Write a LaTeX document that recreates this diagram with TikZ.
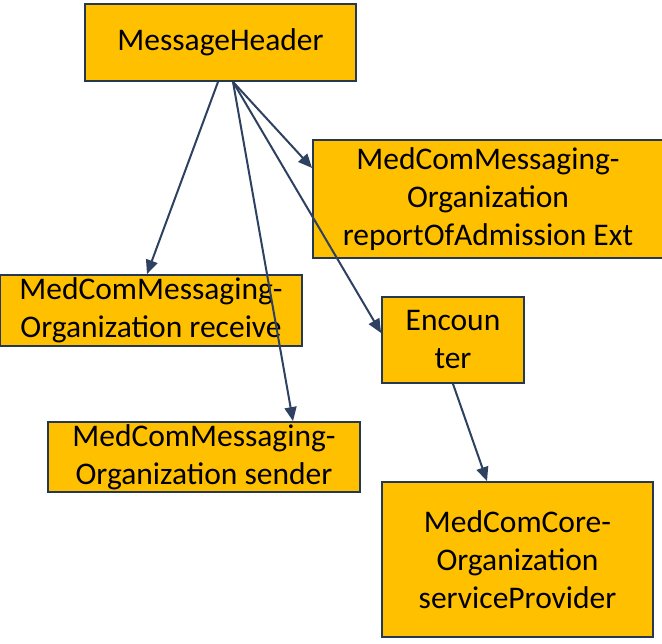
\documentclass[tikz,border=0pt]{standalone}
\usepackage{fontspec}
\setmainfont{Carlito}
\usetikzlibrary{positioning,arrows.meta}
\definecolor{boxfill}{HTML}{FFC000}
\definecolor{boxline}{HTML}{263850}
\definecolor{linkcol}{HTML}{2E4160}
\tikzset{
	res/.style={draw=boxline,line width=1.8pt,fill=boxfill,inner sep=0pt,align=center,
		font=\fontsize{31.5}{38}\selectfont},
	link/.style={draw=linkcol,line width=2pt,-{Triangle[length=14pt,width=12pt]}},
}
\begin{document}
\begin{tikzpicture}[x=1pt,y=-1pt]
	\useasboundingbox (0,0) rectangle (662,644);
	%% 顶部
	\node[res,minimum width=271pt,minimum height=77pt] (head) at (220.5,42.5) {MessageHeader};
	%% 右侧
	\node[res,minimum width=350pt,minimum height=118pt] (report) at (488,199)
		{MedComMessaging-\\Organization\\reportOfAdmission Ext};
	\node[res,minimum width=142pt,minimum height=86pt] (enc) at (453,340) {Encoun\\ter};
	\node[res,minimum width=271pt,minimum height=155pt] (provider) at (517.5,559.5)
		{MedComCore-\\Organization\\serviceProvider};
	%% 左侧
	\node[res,minimum width=302pt,minimum height=71pt] (receive) at (151,310.5)
		{MedComMessaging-\\Organization receive};
	\node[res,minimum width=312pt,minimum height=70pt] (sender) at (204,457)
		{MedComMessaging-\\Organization sender};
	%% 连线
	\coordinate (h1) at ([xshift=-2.5pt]head.south);
	\coordinate (h2) at ([xshift=12.5pt]head.south);
	\draw[link] (h1) -- ([xshift=-4pt]receive.north);
	\draw[link] (h2) -- ([xshift=89pt]sender.north);
	\draw[link] (h2) -- ([yshift=31pt]report.west);
	\draw[link] (h2) -- ([yshift=7pt]enc.west);
	\draw[link] (enc.south) -- ([xshift=-30.5pt]provider.north);
\end{tikzpicture}
\end{document}
